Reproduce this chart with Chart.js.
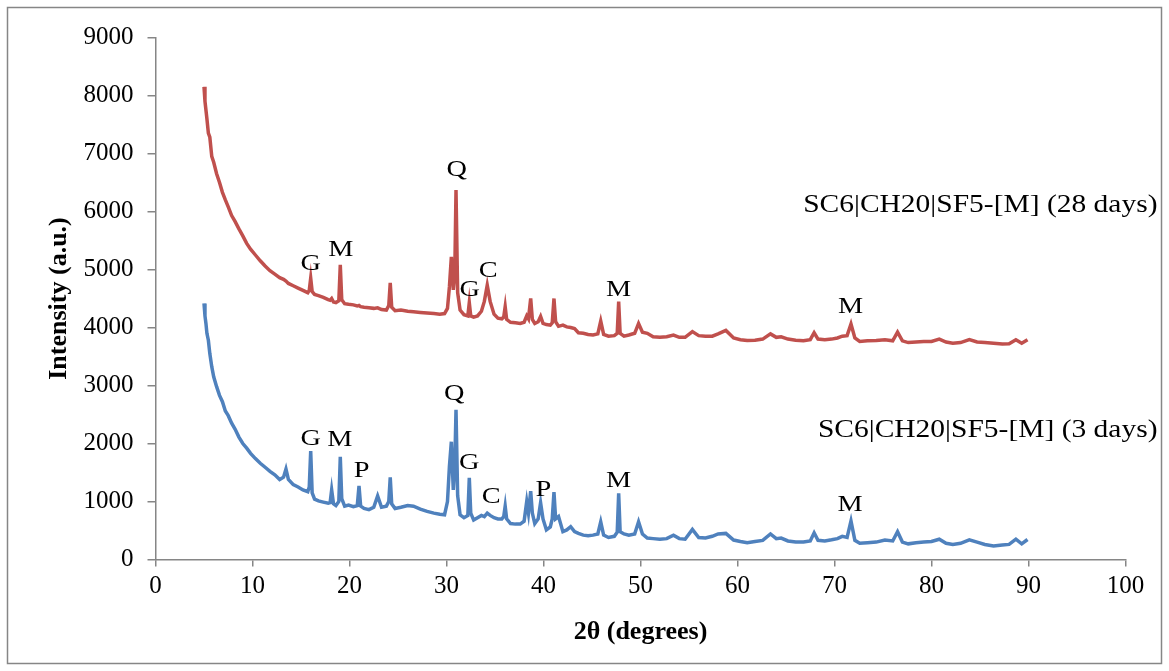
<!DOCTYPE html>
<html>
<head>
<meta charset="utf-8">
<script src="https://cdn.jsdelivr.net/npm/chart.js@4.4.1/dist/chart.umd.min.js"></script>
<style>
  html, body { margin: 0; padding: 0; background: #fff; }
  #wrap { width: 1169px; height: 671px; }
</style>
</head>
<body>
<div id="wrap"><canvas id="xrd" width="1169" height="671"></canvas></div>
<script>
// 2-theta positions (degrees), shared by both patterns
const twoTheta = [
  5.0, 5.1, 5.2, 5.3, 5.45, 5.6, 5.8, 6.0, 6.3, 6.6,
  6.9, 7.2, 7.5, 7.85, 8.2, 8.6, 9.0, 9.4, 9.8, 10.3,
  10.8, 11.3, 11.8, 12.3, 12.8, 13.2, 13.45, 13.7, 14.2, 14.7,
  15.2, 15.7, 15.85, 16.0, 16.15, 16.4, 16.8, 17.3, 17.8, 18.0,
  18.16, 18.35, 18.6, 18.9, 19.05, 19.2, 19.5, 19.9, 20.4, 20.8,
  20.98, 21.15, 21.5, 22.0, 22.5, 22.9, 23.3, 23.8, 24.05, 24.2,
  24.35, 24.7, 25.3, 26.0, 26.6, 27.3, 28.0, 28.7, 29.3, 29.8,
  30.1, 30.3, 30.5, 30.7, 30.85, 30.98, 31.15, 31.4, 31.8, 32.2,
  32.35, 32.5, 32.8, 33.2, 33.6, 33.9, 34.2, 34.5, 34.9, 35.3,
  35.7, 35.9, 36.05, 36.2, 36.6, 37.1, 37.6, 38.0, 38.27, 38.45,
  38.68, 38.85, 39.1, 39.45, 39.7, 39.95, 40.3, 40.7, 40.9, 41.08,
  41.25, 41.55, 42.0, 42.4, 42.8, 43.2, 43.6, 44.1, 44.6, 45.1,
  45.6, 45.9, 46.2, 46.7, 47.3, 47.6, 47.75, 47.9, 48.3, 48.8,
  49.4, 49.8, 50.2, 50.7, 51.3, 52.0, 52.7, 53.4, 54.0, 54.6,
  55.35, 56.0, 56.7, 57.4, 58.0, 58.8, 59.6, 60.3, 61.0, 61.8,
  62.6, 63.4, 64.0, 64.5, 65.2, 66.0, 66.8, 67.5, 67.9, 68.3,
  69.0, 69.7, 70.3, 70.8, 71.3, 71.7, 72.1, 72.6, 73.4, 74.3,
  75.2, 76.0, 76.5, 77.0, 77.6, 78.4, 79.2, 80.0, 80.8, 81.5,
  82.2, 83.0, 83.9, 84.7, 85.5, 86.4, 87.3, 88.0, 88.7, 89.3,
  89.9
];

// SC6|CH20|SF5-[M] (28 days)
const intensity28d = [
  8150, 7900, 7750, 7600, 7350, 7280, 6950, 6850, 6650, 6500,
  6330, 6200, 6080, 5930, 5830, 5700, 5580, 5450, 5350, 5250,
  5150, 5060, 4980, 4920, 4860, 4830, 4800, 4760, 4720, 4680,
  4640, 4600, 4640, 4850, 4620, 4570, 4550, 4520, 4480, 4470,
  4500, 4440, 4430, 4460, 5080, 4480, 4410, 4400, 4390, 4370,
  4380, 4360, 4350, 4340, 4330, 4340, 4310, 4300, 4380, 4770,
  4350, 4290, 4300, 4280, 4270, 4260, 4250, 4240, 4230, 4240,
  4330, 4700, 5220, 4650, 4900, 6370, 4600, 4300, 4220, 4200,
  4430, 4200, 4180, 4200, 4280, 4450, 4730, 4450, 4230, 4160,
  4150, 4180, 4360, 4140, 4090, 4080, 4070, 4090, 4200, 4150,
  4500, 4140, 4070, 4100, 4190, 4070, 4050, 4040, 4080, 4500,
  4100, 4020, 4040, 4010, 4000, 3980, 3910, 3900, 3880, 3870,
  3890, 4110, 3880, 3850, 3860, 3900, 4445, 3900, 3850, 3870,
  3900, 4070, 3920, 3900, 3840, 3830, 3840, 3870, 3830, 3830,
  3930, 3860, 3850, 3850, 3890, 3950, 3820, 3790, 3775, 3780,
  3800, 3890, 3830, 3840, 3800, 3780, 3770, 3790, 3910, 3800,
  3790, 3800, 3820, 3850, 3860, 4060, 3820, 3760, 3770, 3775,
  3790, 3770, 3920, 3770, 3740, 3750, 3760, 3760, 3800, 3750,
  3730, 3740, 3790, 3750, 3740, 3730, 3715, 3720, 3790, 3730,
  3790
];

// SC6|CH20|SF5-[M] (3 days)
const intensity3d = [
  4415, 4200, 4070, 3900, 3780, 3550, 3325, 3150, 2980, 2830,
  2720, 2560, 2480, 2350, 2250, 2110, 2000, 1920, 1830, 1740,
  1660, 1590, 1520, 1460, 1380, 1420, 1560, 1380, 1290, 1250,
  1200, 1170, 1250, 1870, 1150, 1040, 1010, 990, 970, 980,
  1200, 960, 930, 1000, 1770, 1050, 920, 940, 910, 930,
  1270, 920, 880, 860, 900, 1095, 900, 920, 1000, 1415,
  960, 880, 900, 930, 920, 870, 830, 800, 780, 770,
  1000, 1600, 2030, 1200, 1600, 2580, 1100, 770, 720, 760,
  1410, 800, 680, 720, 760, 740, 800, 760, 720, 700,
  700, 740, 920, 700, 620, 610, 610, 660, 1000, 800,
  1180, 800, 620, 700, 980, 700, 510, 560, 700, 1160,
  700, 740, 480, 510, 565, 480, 450, 420, 410, 420,
  440, 650, 420, 380, 400, 470, 1140, 480, 440, 420,
  440, 650, 440, 370, 360, 350, 360, 420, 360, 350,
  520, 380, 370, 400, 440, 450, 335, 310, 290, 310,
  330, 440, 360, 370, 320, 300, 300, 320, 460, 330,
  320, 340, 360, 400, 380, 665, 330, 280, 290, 300,
  335, 320, 480, 300, 270, 290, 300, 310, 350, 280,
  260, 280, 340, 300, 260, 235, 250, 260, 350, 270,
  345
];

// phase letters (G, M, Q, C, P) placed at data coordinates
const peakText28d = ['G', 'M', 'Q', 'G', 'C', 'M', 'M'];
const peakX28d    = [16.0, 19.1, 31.05, 32.4, 34.3, 47.75, 71.65];
const peakY28d    = [5095, 5336, 6716, 4647, 4980, 4647, 4359];

const peakText3d = ['G', 'M', 'P', 'Q', 'G', 'C', 'P', 'M', 'M'];
const peakX3d    = [16.0, 19.0, 21.25, 30.8, 32.35, 34.6, 40.0, 47.75, 71.6];
const peakY3d    = [2090, 2072, 1531, 2865, 1669, 1083, 1198, 1359, 940];

const seriesNames = ['SC6|CH20|SF5-[M] (28 days)', 'SC6|CH20|SF5-[M] (3 days)'];
const seriesNameX = [103.3, 103.3];
const seriesNameY = [6112, 2230];

const serif = '"Liberation Serif", "Times New Roman", serif';
const axisGray = '#868686';
const stretch = 1.18;

function drawText(ctx, text, px, py, align, size) {
  ctx.save();
  ctx.translate(px, py);
  ctx.scale(stretch, 1);
  ctx.font = size + 'px ' + serif;
  ctx.textAlign = align;
  ctx.textBaseline = 'middle';
  ctx.fillStyle = '#000';
  ctx.fillText(text, 0, 0);
  ctx.restore();
}

const framePlugin = {
  id: 'frame',
  beforeDraw(chart) {
    const { ctx, width, height } = chart;
    ctx.save();
    ctx.fillStyle = '#fff';
    ctx.fillRect(0, 0, width, height);
    ctx.strokeStyle = axisGray;
    ctx.lineWidth = 1.5;
    ctx.strokeRect(7.5, 7.5, width - 15, height - 15);
    ctx.restore();
  }
};

const labelPlugin = {
  id: 'peakLabels',
  afterDatasetsDraw(chart) {
    const { ctx, scales: { x, y } } = chart;
    peakText28d.forEach((t, i) => {
      drawText(ctx, t, x.getPixelForValue(peakX28d[i]), y.getPixelForValue(peakY28d[i]), 'center', 24);
    });
    peakText3d.forEach((t, i) => {
      drawText(ctx, t, x.getPixelForValue(peakX3d[i]), y.getPixelForValue(peakY3d[i]), 'center', 24);
    });
    seriesNames.forEach((t, i) => {
      drawText(ctx, t, x.getPixelForValue(seriesNameX[i]), y.getPixelForValue(seriesNameY[i]), 'right', 25);
    });
  }
};

new Chart(document.getElementById('xrd'), {
  type: 'line',
  data: {
    datasets: [
      {
        label: seriesNames[0],
        data: twoTheta.map((t, i) => ({ x: t, y: intensity28d[i] })),
        borderColor: '#C0504D',
        borderWidth: 3.5,
        pointRadius: 0,
        tension: 0
      },
      {
        label: seriesNames[1],
        data: twoTheta.map((t, i) => ({ x: t, y: intensity3d[i] })),
        borderColor: '#4F81BD',
        borderWidth: 3.5,
        pointRadius: 0,
        tension: 0
      }
    ]
  },
  options: {
    responsive: false,
    animation: false,
    devicePixelRatio: 1,
    layout: { padding: { left: 8, right: 43.5, top: 37.5, bottom: 8 } },
    plugins: {
      legend: { display: false },
      tooltip: { enabled: false }
    },
    scales: {
      x: {
        type: 'linear',
        min: 0,
        max: 100,
        ticks: { stepSize: 10, maxRotation: 0, padding: 5, color: '#000', font: { family: serif, size: 25 } },
        grid: { drawOnChartArea: false, tickLength: 7, color: axisGray, lineWidth: 1.5 },
        border: { color: axisGray, width: 1.5 },
        title: {
          display: true,
          text: '2θ (degrees)',
          color: '#000',
          font: { family: serif, size: 26, weight: 'bold' },
          padding: { top: 0, bottom: 15 }
        },
        afterFit: (scale) => { scale.height = 103.5; }
      },
      y: {
        min: 0,
        max: 9000,
        ticks: {
          stepSize: 1000,
          padding: 14,
          color: '#000',
          font: { family: serif, size: 25 },
          callback: (v) => String(v)
        },
        grid: { drawOnChartArea: false, tickLength: 8, color: axisGray, lineWidth: 1.5 },
        border: { color: axisGray, width: 1.5 },
        title: {
          display: true,
          text: 'Intensity (a.u.)',
          color: '#000',
          font: { family: serif, size: 26, weight: 'bold' },
          padding: { top: 36, bottom: 0 }
        },
        afterFit: (scale) => { scale.width = 147.5; }
      }
    }
  },
  plugins: [framePlugin, labelPlugin]
});
</script>
</body>
</html>
